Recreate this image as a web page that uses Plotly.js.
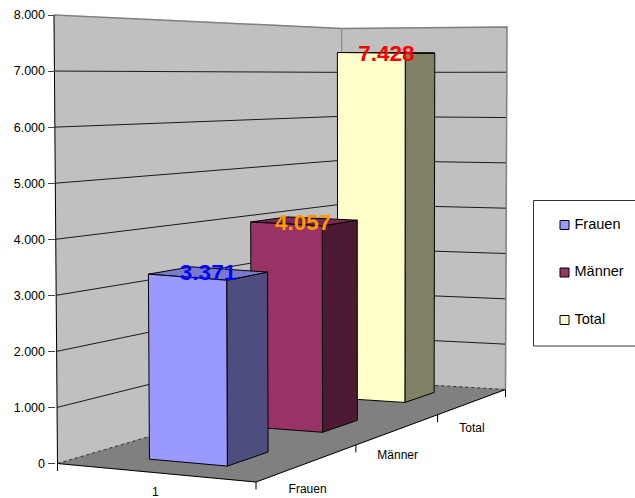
<!DOCTYPE html>
<html>
<head>
<meta charset="utf-8">
<script src="https://cdn.plot.ly/plotly-3.0.1.min.js"></script>
<style>html,body{margin:0;padding:0;background:#fff}</style>
</head>
<body>
<div id="chart" style="width:635px;height:498px"></div>
<script>
// Series totals
const categories = ['Frauen', 'Männer', 'Total'];
const seriesValues = [3371, 4057, 7428];
const valueLabels = ['3.371', '4.057', '7.428'];
const groupLabels = ['1'];
const valueTicks = [0, 1000, 2000, 3000, 4000, 5000, 6000, 7000, 8000];
const tickLabels = ['0', '1.000', '2.000', '3.000', '4.000', '5.000', '6.000', '7.000', '8.000'];
const valueMax = 8000;

// Look of each series: front, side and top faces, label colour
const faceFront = ['#9999FF', '#993366', '#FFFFCC'];
const faceSide = ['#4D4D80', '#4D1A33', '#808066'];
const faceTop = ['#7A7ACC', '#7A2952', '#CCCCA3'];
const labelColors = ['#0000FF', '#FF9900', '#FF0000'];

// Bar footprints on the floor: u runs along the front edge, v runs into the depth
const barU = [[0.318, 0.717], [0.315, 0.705], [0.288, 0.683]];
const barV = [[0.09, 0.22], [0.42, 0.555], [0.775, 0.912]];

// Perspective of the floor, a square mapped on to its four projected corners
const corner = {A: [57.5, 463.5], B: [256, 482], C: [505.5, 389.5], D: [342, 380]};
const sx = corner.A[0] - corner.B[0] + corner.C[0] - corner.D[0];
const sy = corner.A[1] - corner.B[1] + corner.C[1] - corner.D[1];
const dx1 = corner.B[0] - corner.C[0], dx2 = corner.D[0] - corner.C[0];
const dy1 = corner.B[1] - corner.C[1], dy2 = corner.D[1] - corner.C[1];
const det = dx1 * dy2 - dx2 * dy1;
const g = (sx * dy2 - dx2 * sy) / det;
const h = (dx1 * sy - sx * dy1) / det;
const a = corner.B[0] - corner.A[0] + g * corner.B[0];
const b = corner.D[0] - corner.A[0] + h * corner.D[0];
const d = corner.B[1] - corner.A[1] + g * corner.B[1];
const e = corner.D[1] - corner.A[1] + h * corner.D[1];

// Full axis height at the nearest corner and its shrink with distance
const fullHeight = 448.5, shrinkU = -0.0387, shrinkV = 0.2756, skew = 0.03;
const vanishX = 371, lean = 0.01116;

function project(u, v, value) {
  const w = 1 + g * u + h * v;
  const x = (a * u + b * v + corner.A[0]) / w;
  const y = (d * u + e * v + corner.A[1]) / w;
  const frac = value / valueMax;
  const height = fullHeight / (1 + shrinkU * u + shrinkV * v) * (1 - skew * u * (1 - v));
  return [x + frac * (x - vanishX) * lean, y - frac * height];
}

const traces = [];
function polygon(points, fill, lineColor, lineWidth) {
  traces.push({
    type: 'scatter', mode: 'lines', fill: 'toself', fillcolor: fill,
    x: points.map(p => p[0]).concat(points[0][0]),
    y: points.map(p => p[1]).concat(points[0][1]),
    line: {color: lineColor, width: lineWidth}, hoverinfo: 'skip'
  });
}
function polyline(points, color, width, dash) {
  traces.push({
    type: 'scatter', mode: 'lines',
    x: points.map(p => p ? p[0] : null), y: points.map(p => p ? p[1] : null),
    line: {color: color, width: width, dash: dash || 'solid'}, hoverinfo: 'skip'
  });
}

// Walls
polygon([project(0, 0, 0), project(0, 1, 0), project(0, 1, valueMax), project(0, 0, valueMax)], '#C0C0C0', '#C0C0C0', 0.5);
polygon([project(0, 1, 0), project(1, 1, 0), project(1, 1, valueMax), project(0, 1, valueMax)], '#C0C0C0', '#C0C0C0', 0.5);

// Gridlines running along both walls
valueTicks.slice(1, -1).forEach(t => {
  polyline([project(0, 0, t), project(0, 1, t), project(1, 1, t)], '#1a1a1a', 1);
});

// Wall edges
polyline([project(0, 0, valueMax), project(0, 1, valueMax), project(1, 1, valueMax), project(1, 1, 0)], '#808080', 1.5);
polyline([project(0, 1, 0), project(0, 1, valueMax)], '#808080', 1);

// Floor with dashed rear edges and solid front edges
polygon([project(0, 0, 0), project(1, 0, 0), project(1, 1, 0), project(0, 1, 0)], '#808080', '#808080', 0.5);
polyline([project(0, 0, 0), project(0, 1, 0), project(1, 1, 0)], '#333333', 1, 'dot');
polyline([project(0, 0, 0), project(1, 0, 0), project(1, 1, 0)], '#000000', 1);

// Floor tick marks
const floorTicks = [];
const tickLen = 7.5;
[[0, 0], [1, 0], [1, 1 / 3], [1, 2 / 3], [1, 1]].forEach(([u, v]) => {
  const p = project(u, v, 0);
  floorTicks.push(p, [p[0], p[1] + tickLen], null);
});
polyline(floorTicks, '#000000', 1);

// Bars, painted from the back to the front
[2, 1, 0].forEach(i => {
  const val = seriesValues[i];
  const [u0, u1] = barU[i];
  const [v0, v1] = barV[i];
  polygon([project(u1, v0, 0), project(u1, v1, 0), project(u1, v1, val), project(u1, v0, val)], faceSide[i], '#000000', 1);
  polygon([project(u0, v0, val), project(u1, v0, val), project(u1, v1, val), project(u0, v1, val)], faceTop[i], '#000000', 1);
  polygon([project(u0, v0, 0), project(u1, v0, 0), project(u1, v0, val), project(u0, v0, val)], faceFront[i], '#000000', 1);
});

// Value labels sitting on the bar tops
const labelPos = seriesValues.map((val, i) => {
  const p = project((barU[i][0] + barU[i][1]) / 2, barV[i][0], val);
  return [p[0] + [21, 17, 15.5][i], p[1] + [-2.5, 0, 3][i]];
});
traces.push({
  type: 'scatter', mode: 'text', cliponaxis: false,
  x: labelPos.map(p => p[0]), y: labelPos.map(p => p[1]),
  text: valueLabels, textposition: 'middle center',
  textfont: {family: 'Liberation Sans', size: 22.5, weight: 'bold', color: labelColors},
  hoverinfo: 'skip'
});

// Depth axis and category axis labels, hung under the floor edges
const depthPos = categories.map((c, i) => {
  const p = project(1, (i + 0.5) / 3, 0);
  return [p[0] - 1, p[1] + 27];
});
const groupPos = project(0.5, 0, 0);
traces.push({
  type: 'scatter', mode: 'text', cliponaxis: false,
  x: depthPos.map(p => p[0]).concat(groupPos[0] + 2),
  y: depthPos.map(p => p[1]).concat(groupPos[1] + 21),
  text: categories.concat(groupLabels), textposition: 'middle center',
  textfont: {family: 'Liberation Sans', size: 12, color: '#000000'},
  hoverinfo: 'skip'
});

// Front corner of the left wall, carrying the value axis
traces.push({
  type: 'scatter', mode: 'lines', yaxis: 'y2',
  x: [project(0, 0, 0)[0], project(0, 0, valueMax)[0]], y: [0, valueMax],
  line: {color: '#000000', width: 1}, hoverinfo: 'skip'
});

// Legend entries: swatch and name
const legendX = 564.5, legendMarkerY = [225, 272.5, 320], legendTextY = [225, 272.5, 320];
categories.forEach((c, i) => {
  traces.push({
    type: 'scatter', mode: 'markers', cliponaxis: false,
    x: [legendX], y: [legendMarkerY[i]],
    marker: {symbol: 'square', size: 9, color: faceFront[i], line: {color: '#000000', width: 1}},
    hoverinfo: 'skip'
  });
  traces.push({
    type: 'scatter', mode: 'text', cliponaxis: false,
    x: [legendX + 10], y: [legendTextY[i]], text: [c], textposition: 'middle right',
    textfont: {family: 'Liberation Sans', size: 14.5, color: '#000000'},
    hoverinfo: 'skip'
  });
});

const W = 635, H = 498;
const pxPerValue = (corner.A[1] - project(0, 0, valueMax)[1]) / valueMax;
const layout = {
  width: W, height: H, autosize: false, showlegend: false, hovermode: false,
  margin: {l: 0, r: 0, t: 0, b: 0},
  paper_bgcolor: '#ffffff', plot_bgcolor: '#ffffff',
  xaxis: {range: [0, W], visible: false, fixedrange: true},
  yaxis: {range: [H, 0], visible: false, fixedrange: true},
  yaxis2: {
    overlaying: 'y', anchor: 'free', position: 54.5 / W, side: 'left', fixedrange: true,
    range: [-(H - corner.A[1]) / pxPerValue, corner.A[1] / pxPerValue],
    tickmode: 'array', tickvals: valueTicks, ticktext: tickLabels,
    ticks: 'outside', ticklen: 7, tickcolor: '#444444', tickwidth: 1,
    showgrid: false, zeroline: false, showline: false,
    tickfont: {family: 'Liberation Sans', size: 12.5, color: '#000000'}
  },
  shapes: [{
    type: 'rect', xref: 'x', yref: 'y', x0: 533.5, x1: 645, y0: 200.5, y1: 346,
    line: {color: '#333333', width: 1}, fillcolor: '#ffffff', layer: 'below'
  }]
};
Plotly.newPlot('chart', traces, layout, {displayModeBar: false, staticPlot: true});
</script>
</body>
</html>
